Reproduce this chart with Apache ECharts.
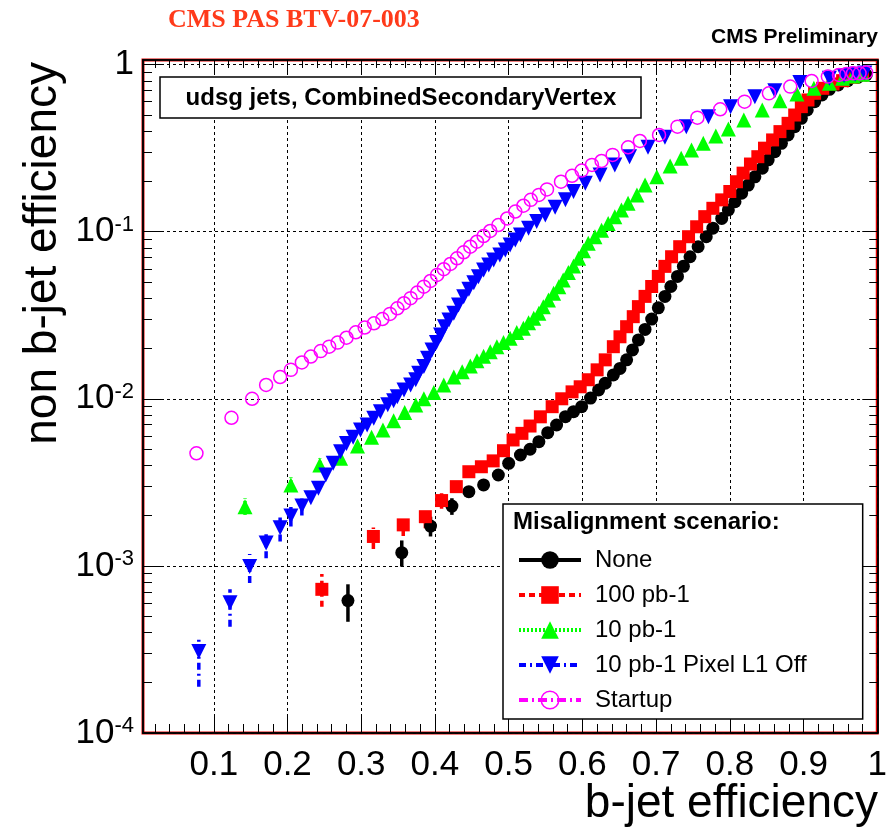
<!DOCTYPE html>
<html><head><meta charset="utf-8">
<script src="https://cdn.jsdelivr.net/npm/echarts@6/dist/echarts.min.js"></script>
<style>html,body{margin:0;padding:0;background:#fff}#c{width:890px;height:829px}</style>
</head><body><div id="c"></div>
<script>
// ---------------- data ----------------
const xTickValues = [0.1,0.2,0.3,0.4,0.5,0.6,0.7,0.8,0.9,1.0];
const yTickExponents = [-4,-3,-2,-1,0];

const seriesNames = ['None','100 pb-1','10 pb-1','10 pb-1 Pixel L1 Off','Startup'];

const noneX = [0.282,0.355,0.394,0.423,0.446,0.466,0.486,0.500,0.516,0.529,0.541,0.553,0.565,0.577,0.588,0.599,0.611,0.622,0.631,0.642,0.651,0.660,0.668,0.676,0.685,0.694,0.703,0.712,0.720,0.729,0.737,0.746,0.757,0.768,0.777,0.789,0.798,0.807,0.816,0.825,0.834,0.844,0.852,0.861,0.870,0.879,0.888,0.897,0.905,0.915,0.925,0.935,0.947,0.960,0.974,0.985];
const noneY = [6.2e-4,1.2e-3,1.73e-3,2.28e-3,2.78e-3,3.05e-3,3.5e-3,4.11e-3,4.61e-3,4.99e-3,5.54e-3,6.27e-3,6.97e-3,7.82e-3,8.37e-3,8.97e-3,1.01e-2,1.13e-2,1.24e-2,1.39e-2,1.52e-2,1.71e-2,1.96e-2,2.25e-2,2.6e-2,3.0e-2,3.5e-2,4.1e-2,4.7e-2,5.4e-2,6.2e-2,7.08e-2,8.13e-2,9.33e-2,0.105,0.120,0.135,0.151,0.170,0.190,0.213,0.240,0.269,0.301,0.338,0.379,0.425,0.477,0.535,0.600,0.658,0.711,0.755,0.801,0.840,0.867];
const noneErrLo = [4.63e-4,9.9e-4,1.50e-3,2.02e-3,2.58e-3,2.85e-3];
const noneErrHi = [7.76e-4,1.42e-3,1.97e-3,2.54e-3,3.0e-3,3.27e-3];

const pb100X = [0.2466,0.3165,0.357,0.387,0.409,0.429,0.446,0.463,0.479,0.493,0.506,0.518,0.529,0.543,0.559,0.572,0.586,0.597,0.608,0.620,0.631,0.642,0.651,0.660,0.669,0.676,0.685,0.694,0.703,0.712,0.721,0.732,0.744,0.755,0.766,0.777,0.789,0.800,0.809,0.818,0.828,0.838,0.847,0.858,0.868,0.879,0.888,0.897,0.906,0.915,0.926,0.940,0.953,0.967,0.980];
const pb100Y = [7.24e-4,1.50e-3,1.76e-3,1.97e-3,2.46e-3,2.98e-3,3.66e-3,3.92e-3,4.25e-3,4.89e-3,5.67e-3,6.21e-3,6.87e-3,7.8e-3,8.97e-3,1.0e-2,1.10e-2,1.18e-2,1.30e-2,1.49e-2,1.71e-2,2.05e-2,2.35e-2,2.70e-2,3.10e-2,3.56e-2,4.1e-2,4.7e-2,5.4e-2,6.2e-2,7.08e-2,8.13e-2,9.33e-2,0.107,0.123,0.138,0.155,0.174,0.199,0.224,0.254,0.281,0.316,0.354,0.397,0.445,0.499,0.560,0.614,0.673,0.721,0.766,0.801,0.840,0.867];
const pb100ErrLo = [5.70e-4,1.26e-3,1.51e-3,1.68e-3,2.2e-3];
const pb100ErrHi = [8.95e-4,1.70e-3,1.97e-3,2.18e-3,2.72e-3];

const pb10X = [0.1424,0.2046,0.2438,0.272,0.295,0.314,0.3295,0.344,0.359,0.374,0.385,0.3985,0.412,0.4256,0.437,0.448,0.457,0.466,0.475,0.484,0.493,0.502,0.511,0.520,0.527,0.534,0.541,0.547,0.554,0.561,0.568,0.574,0.581,0.588,0.595,0.6015,0.608,0.617,0.626,0.635,0.644,0.653,0.662,0.674,0.685,0.701,0.719,0.734,0.748,0.764,0.781,0.798,0.819,0.844,0.868,0.891,0.914,0.935,0.953,0.967,0.980];
const pb10Y = [2.26e-3,3.05e-3,4.01e-3,4.40e-3,5.22e-3,5.89e-3,6.51e-3,7.4e-3,8.27e-3,9.18e-3,1.0e-2,1.09e-2,1.21e-2,1.35e-2,1.45e-2,1.57e-2,1.69e-2,1.80e-2,1.91e-2,2.05e-2,2.17e-2,2.30e-2,2.49e-2,2.64e-2,2.85e-2,3.03e-2,3.25e-2,3.56e-2,3.90e-2,4.28e-2,4.69e-2,5.14e-2,5.69e-2,6.23e-2,6.93e-2,7.70e-2,8.52e-2,9.33e-2,0.102,0.112,0.123,0.135,0.148,0.166,0.190,0.213,0.247,0.275,0.308,0.338,0.374,0.412,0.466,0.535,0.608,0.667,0.721,0.773,0.828,0.855,0.875];
const pb10ErrLo = [2.02e-3,2.84e-3,3.7e-3];
const pb10ErrHi = [2.54e-3,3.39e-3,4.40e-3];

const l1offX = [0.0797,0.122,0.1487,0.171,0.190,0.2046,0.2195,0.2317,0.242,0.252,0.262,0.272,0.280,0.289,0.299,0.308,0.317,0.326,0.336,0.344,0.349,0.358,0.367,0.374,0.378,0.385,0.390,0.396,0.402,0.4076,0.413,0.419,0.4256,0.432,0.439,0.446,0.4527,0.459,0.466,0.473,0.4797,0.488,0.4955,0.502,0.509,0.516,0.527,0.538,0.5497,0.563,0.577,0.588,0.604,0.624,0.644,0.664,0.689,0.712,0.741,0.771,0.801,0.834,0.861,0.895,0.935,0.955,0.970,0.983];
const l1offY = [3.07e-4,6.02e-4,9.9e-4,1.37e-3,1.69e-3,1.99e-3,2.28e-3,2.56e-3,2.91e-3,3.50e-3,4.11e-3,4.82e-3,5.4e-3,5.89e-3,6.50e-3,6.97e-3,7.64e-3,8.37e-3,9.2e-3,9.74e-3,1.03e-2,1.13e-2,1.21e-2,1.30e-2,1.42e-2,1.56e-2,1.75e-2,1.96e-2,2.17e-2,2.41e-2,2.70e-2,2.96e-2,3.25e-2,3.64e-2,4.08e-2,4.52e-2,4.95e-2,5.38e-2,5.90e-2,6.32e-2,6.77e-2,7.26e-2,7.77e-2,8.32e-2,8.91e-2,9.55e-2,0.105,0.115,0.126,0.140,0.155,0.174,0.195,0.218,0.251,0.281,0.320,0.367,0.425,0.488,0.560,0.642,0.698,0.78,0.828,0.86,0.875,0.89];
const l1offErrLo = [1.89e-4,4.33e-4,7.9e-4,1.11e-3,1.40e-3,1.72e-3,2.0e-3];
const l1offErrHi = [3.69e-4,7.24e-4,1.18e-3,1.60e-3,1.95e-3,2.25e-3,2.55e-3];

const startupX = [0.0765,0.124,0.152,0.171,0.190,0.2046,0.2195,0.2317,0.245,0.2565,0.268,0.280,0.2926,0.3047,0.3173,0.3287,0.339,0.349,0.358,0.367,0.376,0.385,0.394,0.403,0.412,0.421,0.430,0.439,0.448,0.457,0.466,0.475,0.486,0.498,0.509,0.520,0.530,0.541,0.552,0.571,0.586,0.599,0.613,0.626,0.641,0.662,0.678,0.704,0.729,0.756,0.787,0.820,0.853,0.882,0.911,0.933,0.948,0.958,0.967,0.976,0.985];
const startupY = [4.72e-3,7.7e-3,1.0e-2,1.21e-2,1.35e-2,1.49e-2,1.65e-2,1.79e-2,1.93e-2,2.05e-2,2.17e-2,2.32e-2,2.50e-2,2.67e-2,2.83e-2,3.0e-2,3.22e-2,3.48e-2,3.73e-2,4.0e-2,4.32e-2,4.69e-2,5.07e-2,5.51e-2,5.96e-2,6.41e-2,6.93e-2,7.53e-2,8.13e-2,8.71e-2,9.42e-2,0.101,0.1096,0.120,0.132,0.143,0.155,0.166,0.179,0.199,0.216,0.232,0.251,0.265,0.288,0.320,0.349,0.379,0.425,0.481,0.540,0.600,0.673,0.738,0.798,0.847,0.867,0.879,0.887,0.887,0.895];
const startupErrLo = [];
const startupErrHi = [];

// ---------------- chart ----------------
const FONT = '"Liberation Sans", Arial, Helvetica, sans-serif';
const X_MIN = 0.004, X_MAX = 1.0;
const Y_MIN = -4, Y_MAX = Math.log10(1.065);
const lg = v => Math.log10(v);

const xMinor = [];
for (let i = 1; i < 50; i++) { if (i % 5 !== 0) xMinor.push(+(i * 0.02).toFixed(2)); }
const yMinor = [];
for (let n = -4; n < 0; n++) for (let k = 2; k <= 9; k++) yMinor.push(n + Math.log10(k));

const styles = [
  {color:'#000000', symbol:'circle', size:13, rotate:0, dash:'solid', fill:'#000000'},
  {color:'#ff0000', symbol:'rect', size:13, rotate:0, dash:[6,4], fill:'#ff0000'},
  {color:'#00ff00', symbol:'triangle', size:15, rotate:0, dash:[2,2], fill:'#00ff00'},
  {color:'#0000ff', symbol:'triangle', size:15, rotate:180, dash:[7,4,2,4], fill:'#0000ff'},
  {color:'#ff00ff', symbol:'circle', size:13, rotate:0, dash:[9,4,2,4], fill:'rgba(0,0,0,0)'}
];
const xs = [noneX, pb100X, pb10X, l1offX, startupX];
const ys = [noneY, pb100Y, pb10Y, l1offY, startupY];
const los = [noneErrLo, pb100ErrLo, pb10ErrLo, l1offErrLo, startupErrLo];
const his = [noneErrHi, pb100ErrHi, pb10ErrHi, l1offErrHi, startupErrHi];

const series = [];
seriesNames.forEach((name, i) => {
  const st = styles[i];
  const errData = los[i].map((lo, j) => [xs[i][j], lg(lo), lg(his[i][j])]);
  series.push({
    type: 'custom', name: name + '_err', xAxisIndex: 0, yAxisIndex: 0, z: 2,
    data: errData, encode: {x: 0, y: [1, 2]}, silent: true,
    renderItem: (params, api) => {
      const p1 = api.coord([api.value(0), api.value(1)]);
      const p2 = api.coord([api.value(0), api.value(2)]);
      return {type: 'line', shape: {x1: p1[0], y1: p1[1], x2: p2[0], y2: p2[1]},
        style: {stroke: st.color, lineWidth: 3.5, lineDash: st.dash === 'solid' ? null : st.dash}};
    }
  });
});
seriesNames.forEach((name, i) => {
  const st = styles[i];
  series.push({
    type: 'line', name: name, xAxisIndex: 0, yAxisIndex: 0, z: 3,
    data: xs[i].map((x, j) => [x, lg(ys[i][j])]),
    symbol: st.symbol, symbolSize: st.size, symbolRotate: st.rotate, showSymbol: true,
    lineStyle: {opacity: 0, width: 0},
    itemStyle: {color: st.fill, borderColor: st.color, borderWidth: i === 4 ? 1.5 : 0, opacity: 1},
    emphasis: {disabled: true}, silent: true
  });
});

const legendData = seriesNames.map((name, i) => {
  const st = styles[i];
  return {
    name: name,
    itemStyle: {color: st.fill, borderColor: st.color, borderWidth: i === 4 ? 1.5 : 0, opacity: 1},
    lineStyle: {color: st.color, width: 4, type: st.dash, opacity: 1}
  };
});

function xAx(position, values, len, showLabel, split) {
  return {
    type: 'value', min: X_MIN, max: X_MAX, position: position,
    axisLine: {show: true, onZero: false, lineStyle: {color: '#000', width: 1.5}},
    axisTick: {show: true, inside: true, length: len, customValues: values, lineStyle: {color: '#000', width: 1}},
    axisLabel: {show: showLabel, customValues: values, margin: 15, color: '#000', fontFamily: FONT, fontSize: 35,
      formatter: v => (Math.abs(v - 1) < 1e-9 ? '1' : String(+v.toFixed(1)))},
    splitLine: {show: split, lineStyle: {color: '#000', width: 1, type: [3, 3]}},
    minorTick: {show: false}, minorSplitLine: {show: false}
  };
}
function yAx(position, values, len, showLabel, split) {
  return {
    type: 'value', min: Y_MIN, max: Y_MAX, position: position,
    axisLine: {show: true, onZero: false, lineStyle: {color: '#000', width: 1.5}},
    axisTick: {show: true, inside: true, length: len, customValues: values, lineStyle: {color: '#000', width: 1}},
    axisLabel: {show: showLabel, customValues: values, margin: 9, color: '#000',
      formatter: v => (v === 0 ? '{b|1}' : '{b|10}{s|' + v + '}'),
      rich: {b: {fontFamily: FONT, fontSize: 35, color: '#000', lineHeight: 36},
             s: {fontFamily: FONT, fontSize: 22, color: '#000', verticalAlign: 'top', lineHeight: 36}}},
    splitLine: {show: split, lineStyle: {color: '#000', width: 1, type: [3, 3]}},
    minorTick: {show: false}, minorSplitLine: {show: false}
  };
}

const option = {
  animation: false,
  backgroundColor: '#ffffff',
  grid: {left: 143, right: 11, top: 60, bottom: 96, show: true, borderColor: '#e00000', borderWidth: 3, backgroundColor: 'transparent'},
  xAxis: [
    xAx('bottom', xTickValues, 18, true, true),
    xAx('bottom', xMinor, 9, false, false),
    xAx('top', xTickValues, 15, false, false),
    xAx('top', xMinor, 8, false, false)
  ],
  yAxis: [
    yAx('left', yTickExponents, 18, true, true),
    yAx('left', yMinor, 9, false, false),
    yAx('right', yTickExponents, 15, false, false),
    yAx('right', yMinor, 8, false, false)
  ],
  legend: {
    orient: 'vertical', left: 503, top: 504,
    padding: [44, 56, 7, 14], itemGap: 11, itemWidth: 62, itemHeight: 22,
    backgroundColor: '#ffffff', borderColor: '#000', borderWidth: 1.5,
    textStyle: {fontFamily: FONT, fontSize: 24, lineHeight: 24, color: '#000', padding: [0, 0, 0, 9]},
    selectedMode: false, data: legendData, z: 10
  },
  graphic: [
    {type: 'text', x: 168, y: 20, z: 100, style: {text: 'CMS PAS BTV-07-003', font: 'bold 26px "Liberation Serif", "Times New Roman", serif', fill: '#ff3a1a', align: 'left', verticalAlign: 'middle', textAlign: 'left', textVerticalAlign: 'middle'}},
    {type: 'text', x: 878, y: 37, z: 100, style: {text: 'CMS Preliminary', font: 'bold 21px ' + FONT, fill: '#000', align: 'right', verticalAlign: 'middle', textAlign: 'right', textVerticalAlign: 'middle'}},
    {type: 'rect', z: 50, shape: {x: 160, y: 77, width: 481, height: 41}, style: {fill: '#fff', stroke: '#000', lineWidth: 1.5}},
    {type: 'text', x: 401, y: 98, z: 51, style: {text: 'udsg jets, CombinedSecondaryVertex', font: 'bold 24px ' + FONT, fill: '#000', align: 'center', verticalAlign: 'middle', textAlign: 'center', textVerticalAlign: 'middle'}},
    {type: 'text', x: 43, y: 62, rotation: Math.PI / 2, z: 100, style: {text: 'non b-jet efficiency', font: '46px ' + FONT, fill: '#000', align: 'right', verticalAlign: 'middle', textAlign: 'right', textVerticalAlign: 'middle'}},
    {type: 'text', x: 878, y: 804, z: 100, style: {text: 'b-jet efficiency', font: '46px ' + FONT, fill: '#000', align: 'right', verticalAlign: 'middle', textAlign: 'right', textVerticalAlign: 'middle'}},
    {type: 'text', x: 513, y: 522, z: 100, style: {text: 'Misalignment scenario:', font: 'bold 24px ' + FONT, fill: '#000', align: 'left', verticalAlign: 'middle', textAlign: 'left', textVerticalAlign: 'middle'}}
  ],
  series: series
};

const chart = echarts.init(document.getElementById('c'), null, {renderer: 'canvas'});
chart.setOption(option);
</script>
</body></html>
